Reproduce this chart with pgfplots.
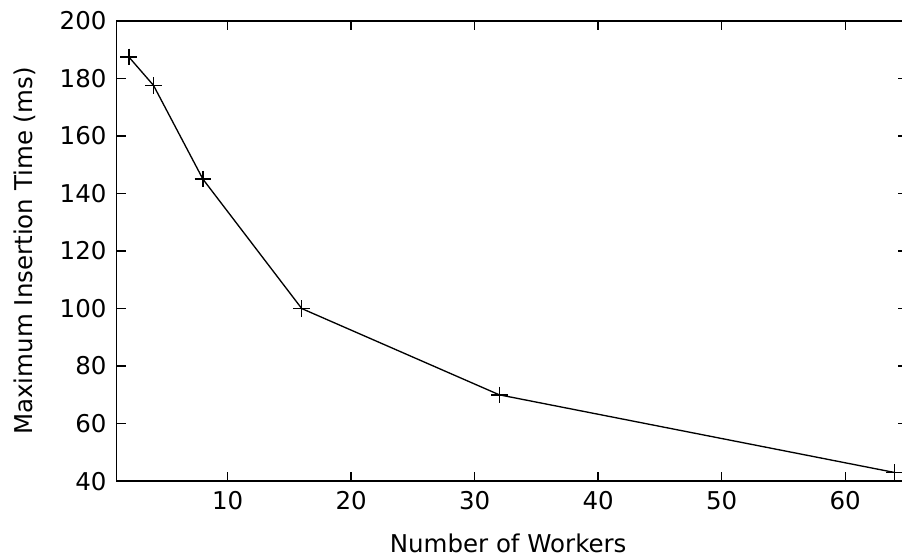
\documentclass[border=0pt]{standalone}
\usepackage{fontspec}
\setmainfont{DejaVu Sans}
\usepackage{pgfplots}
\pgfplotsset{compat=1.18}
\begin{document}
\begin{tikzpicture}
\begin{axis}[
 scale only axis, width=594pt, height=345.75pt,
 xmin=1, xmax=65, ymin=40, ymax=200,
 clip=false,
 xtick={10,20,...,60}, ytick={40,60,...,200},
 tick align=inside, major tick length=7pt,
 axis line style={line width=1.1pt},
 every tick/.style={line width=1.1pt, black},
 font=\fontsize{18.4}{21}\selectfont,
 /pgf/number format/assume math mode=true,
 xlabel={Number of Workers}, ylabel={Maximum Insertion Time (ms)},
 xlabel style={at={(axis description cs:0.4955,-0.1345)}, anchor=center},
 ylabel style={at={(axis description cs:-0.1162,0.5)}, anchor=center},
 xticklabel style={yshift=-4pt},
 yticklabel style={xshift=-4pt},
]
\addplot[black, line width=1pt, mark=+, mark size=6.25pt, mark options={line width=1.1pt}]
 coordinates {(2,187.5)(4,177.6)(8,145)(16,100)(32,70)(64,43)};
\coordinate (bl) at (rel axis cs:0,0);
\coordinate (tr) at (rel axis cs:1,1);
\end{axis}
\pgfresetboundingbox
\path[use as bounding box] ([shift={(-87.5pt,-57.2pt)}]bl) rectangle ([shift={(-3.75pt,15.75pt)}]tr);
\end{tikzpicture}
\end{document}
